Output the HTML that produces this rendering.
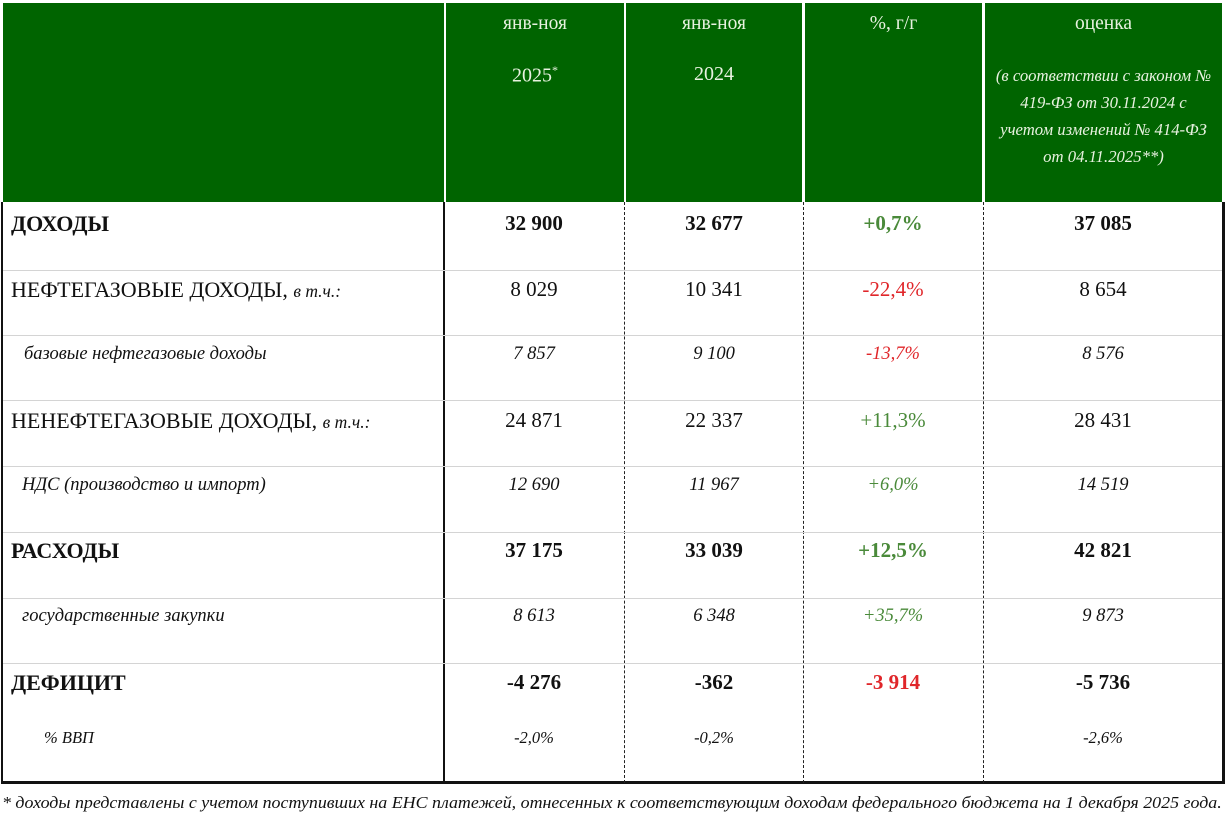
<!DOCTYPE html>
<html><head><meta charset="utf-8"><style>
body{margin:0;width:1227px;height:819px;background:#fff;position:relative;overflow:hidden;font-family:"Liberation Serif","DejaVu Serif",serif;color:#111}
.g{position:absolute;top:3px;height:199px;background:#006400;color:#e8f2e0;text-align:center;font-size:19.5px}
.t{position:absolute;white-space:nowrap;line-height:1}
.c{position:absolute;white-space:nowrap;line-height:1;transform:translateX(-50%)}
.hl{position:absolute;left:3px;width:1219px;height:1px;background:#d4d4d4}
.vd{position:absolute;top:202px;height:581px;border-left:1.5px dashed #222}
.b{font-weight:bold}.i{font-style:italic}
.gr{color:#4a8a3a}.rd{color:#e0262a}
</style></head><body>
<div class="g" style="left:3px;width:441px"></div>
<div class="g" style="left:446px;width:178px"><div style="margin-top:10px">янв-ноя</div><div style="margin-top:28px;font-size:20px">2025<sup style="font-size:12px">*</sup></div></div>
<div class="g" style="left:626px;width:176px"><div style="margin-top:10px">янв-ноя</div><div style="margin-top:28px;font-size:20px">2024</div></div>
<div class="g" style="left:805px;width:177px"><div style="margin-top:10px">%, г/г</div></div>
<div class="g" style="left:985px;width:237px"><div style="margin-top:10px">оценка</div><div class="i" style="margin-top:27px;font-size:16.7px;line-height:27px">(в соответствии с законом №<br>419-ФЗ от 30.11.2024 с<br>учетом изменений № 414-ФЗ<br>от 04.11.2025**)</div></div>

<div style="position:absolute;left:1px;top:202px;width:1219px;height:579px;border-left:2px solid #111;border-right:3px solid #111;border-bottom:3px solid #111"></div>
<div style="position:absolute;left:443px;top:202px;width:2px;height:581px;background:#111"></div>
<div class="vd" style="left:624px"></div><div class="vd" style="left:803px"></div><div class="vd" style="left:983px"></div>
<div class="hl" style="top:270px"></div><div class="hl" style="top:335px"></div><div class="hl" style="top:400px"></div><div class="hl" style="top:466px"></div><div class="hl" style="top:532px"></div><div class="hl" style="top:598px"></div><div class="hl" style="top:663px"></div>

<div class="t b" style="left:11px;top:213px;font-size:22px">ДОХОДЫ</div>
<div class="c b" style="left:534px;top:213px;font-size:21px">32 900</div>
<div class="c b" style="left:714px;top:213px;font-size:21px">32 677</div>
<div class="c b gr" style="left:893px;top:213px;font-size:21px">+0,7%</div>
<div class="c b" style="left:1103px;top:213px;font-size:21px">37 085</div>

<div class="t" style="left:11px;top:279px;font-size:22px">НЕФТЕГАЗОВЫЕ ДОХОДЫ, <span class="i" style="font-size:17.5px">в т.ч.:</span></div>
<div class="c" style="left:534px;top:279px;font-size:21px">8 029</div>
<div class="c" style="left:714px;top:279px;font-size:21px">10 341</div>
<div class="c rd" style="left:893px;top:279px;font-size:21px">-22,4%</div>
<div class="c" style="left:1103px;top:279px;font-size:21px">8 654</div>

<div class="t i" style="left:24px;top:345px;font-size:18.5px">базовые нефтегазовые доходы</div>
<div class="c i" style="left:534px;top:345px;font-size:18.5px">7 857</div>
<div class="c i" style="left:714px;top:345px;font-size:18.5px">9 100</div>
<div class="c i rd" style="left:893px;top:345px;font-size:18.5px">-13,7%</div>
<div class="c i" style="left:1103px;top:345px;font-size:18.5px">8 576</div>

<div class="t" style="left:11px;top:410px;font-size:22px">НЕНЕФТЕГАЗОВЫЕ ДОХОДЫ, <span class="i" style="font-size:17.5px">в т.ч.:</span></div>
<div class="c" style="left:534px;top:410px;font-size:21px">24 871</div>
<div class="c" style="left:714px;top:410px;font-size:21px">22 337</div>
<div class="c gr" style="left:893px;top:410px;font-size:21px">+11,3%</div>
<div class="c" style="left:1103px;top:410px;font-size:21px">28 431</div>

<div class="t i" style="left:22px;top:476px;font-size:18.5px">НДС (производство и импорт)</div>
<div class="c i" style="left:534px;top:476px;font-size:18.5px">12 690</div>
<div class="c i" style="left:714px;top:476px;font-size:18.5px">11 967</div>
<div class="c i gr" style="left:893px;top:476px;font-size:18.5px">+6,0%</div>
<div class="c i" style="left:1103px;top:476px;font-size:18.5px">14 519</div>

<div class="t b" style="left:11px;top:540px;font-size:22px">РАСХОДЫ</div>
<div class="c b" style="left:534px;top:540px;font-size:21px">37 175</div>
<div class="c b" style="left:714px;top:540px;font-size:21px">33 039</div>
<div class="c b gr" style="left:893px;top:540px;font-size:21px">+12,5%</div>
<div class="c b" style="left:1103px;top:540px;font-size:21px">42 821</div>

<div class="t i" style="left:22px;top:607px;font-size:18.5px">государственные закупки</div>
<div class="c i" style="left:534px;top:607px;font-size:18.5px">8 613</div>
<div class="c i" style="left:714px;top:607px;font-size:18.5px">6 348</div>
<div class="c i gr" style="left:893px;top:607px;font-size:18.5px">+35,7%</div>
<div class="c i" style="left:1103px;top:607px;font-size:18.5px">9 873</div>

<div class="t b" style="left:11px;top:672px;font-size:22px">ДЕФИЦИТ</div>
<div class="c b" style="left:534px;top:672px;font-size:21px">-4 276</div>
<div class="c b" style="left:714px;top:672px;font-size:21px">-362</div>
<div class="c b rd" style="left:893px;top:672px;font-size:21px">-3 914</div>
<div class="c b" style="left:1103px;top:672px;font-size:21px">-5 736</div>

<div class="t i" style="left:44px;top:730px;font-size:16.5px">% ВВП</div>
<div class="c i" style="left:534px;top:730px;font-size:16.5px">-2,0%</div>
<div class="c i" style="left:714px;top:730px;font-size:16.5px">-0,2%</div>
<div class="c i" style="left:1103px;top:730px;font-size:16.5px">-2,6%</div>

<div class="t i" style="left:2px;top:794px;font-size:17px;transform-origin:0 0;transform:scaleX(1.053)">* доходы представлены с учетом поступивших на ЕНС платежей, отнесенных к соответствующим доходам федерального бюджета на 1 декабря 2025 года.</div>
</body></html>
